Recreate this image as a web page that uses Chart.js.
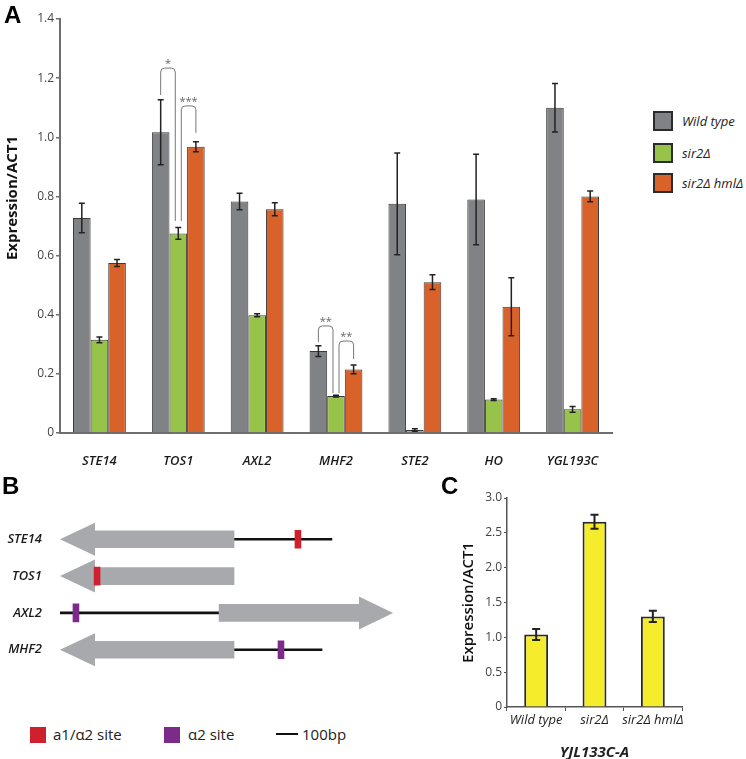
<!DOCTYPE html>
<html>
<head>
<meta charset="utf-8">
<script src="https://cdn.jsdelivr.net/npm/chart.js@4.4.1/dist/chart.umd.min.js"></script>
<style>
  body { margin: 0; background: #fff; font-family: 'Open Sans', sans-serif; }
  #page { position: relative; width: 746px; height: 759px; overflow: hidden; }
  canvas, .abs { position: absolute; white-space: nowrap; }
  .panel { font-family: Arial, 'Liberation Sans', sans-serif; font-weight: bold; font-size: 24px; color: #000; }
  .sw { width: 16px; height: 16px; border: 2px solid #2b2b2b; }
  .lg { font-style: italic; font-size: 13px; color: #222; line-height: 20px; }
  .lgb { font-size: 15px; color: #222; line-height: 16px; }
</style>
</head>
<body>
<div id="page">
  <canvas id="chartA" width="640" height="470" style="left:0;top:0"></canvas>
  <canvas id="chartB" width="412" height="183" style="left:0;top:503px"></canvas>
  <canvas id="chartC" width="316" height="289" style="left:430px;top:470px"></canvas>

  <div class="abs panel" style="left:4px;top:1px">A</div>
  <div class="abs panel" style="left:2px;top:472px">B</div>
  <div class="abs panel" style="left:441px;top:472px">C</div>

  <div class="abs sw" style="left:653px;top:111px;background:#808285"></div>
  <div class="abs lg" style="left:682px;top:111px">Wild type</div>
  <div class="abs sw" style="left:653px;top:143px;background:#98c34a"></div>
  <div class="abs lg" style="left:682px;top:143px">sir2Δ</div>
  <div class="abs sw" style="left:653px;top:173px;background:#d9622b"></div>
  <div class="abs lg" style="left:682px;top:173px">sir2Δ hmlΔ</div>

  <div class="abs" style="left:30px;top:727px;width:16px;height:16px;background:#d0202e"></div>
  <div class="abs lgb" style="left:53px;top:726px">a1/α2 site</div>
  <div class="abs" style="left:164px;top:727px;width:16px;height:16px;background:#7d2b8b"></div>
  <div class="abs lgb" style="left:188px;top:726px">α2 site</div>
  <div class="abs" id="bpBar" style="left:276px;top:733px;width:22px;height:2px;background:#111"></div>
  <div class="abs lgb" style="left:302px;top:726px">100bp</div>
</div>
<script>
// ---- panel A data
const genes = ['STE14', 'TOS1', 'AXL2', 'MHF2', 'STE2', 'HO', 'YGL193C'];
const wildType    = [0.727, 1.017, 0.783, 0.277, 0.775, 0.790, 1.100];
const wildTypeErr = [0.050, 0.110, 0.028, 0.018, 0.172, 0.153, 0.082];
const sir2        = [0.315, 0.675, 0.398, 0.125, 0.010, 0.113, 0.080];
const sir2Err     = [0.010, 0.020, 0.005, 0.003, 0.004, 0.003, 0.010];
const sir2hml     = [0.575, 0.968, 0.757, 0.215, 0.510, 0.427, 0.800];
const sir2hmlErr  = [0.012, 0.017, 0.022, 0.015, 0.025, 0.098, 0.018];
// [gene index, series from, series to, bracket top, from end, to end, label]
const brackets = [
  [1, 0, 1, 1.234, 1.143, 0.717, '*'],
  [1, 1, 2, 1.106, 0.717, 1.015, '***'],
  [3, 0, 1, 0.362, 0.308, 0.135, '**'],
  [3, 1, 2, 0.311, 0.135, 0.250, '**']
];

// ---- panel B data (bp, 0 = left end of the drawing)
const loci = ['STE14', 'TOS1', 'AXL2', 'MHF2'];
const intergenic = [[791, 1236], null, [0, 723], [791, 1191]];
const orfBody    = [[159, 791], [159, 791], [723, 1359], [159, 791]];
const orfTip     = [0, 0, 1514, 0];
const a1a2Site   = [[1068, 1095], [155, 182], null, null];
const alpha2Site = [null, null, [59, 86], [991, 1018]];

// ---- panel C data
const strains = ['Wild type', 'sir2Δ', 'sir2Δ hmlΔ'];
const yjl133 = [1.04, 2.66, 1.30];
const yjl133Err = [0.08, 0.10, 0.08];

const FONT = "'Open Sans', sans-serif";

const errorBars = {
  id: 'errorBars',
  afterDatasetsDraw(chart, args, opts) {
    const ctx = chart.ctx;
    const y = chart.scales.y;
    chart.data.datasets.forEach((ds, i) => {
      if (!ds.errors) return;
      chart.getDatasetMeta(i).data.forEach((bar, j) => {
        const v = ds.data[j], e = ds.errors[j];
        const top = y.getPixelForValue(v + e);
        const bot = y.getPixelForValue(v - e);
        const cap = opts.cap || 3;
        ctx.save();
        ctx.strokeStyle = '#222';
        ctx.lineWidth = opts.width || 1.5;
        ctx.beginPath();
        ctx.moveTo(bar.x, top); ctx.lineTo(bar.x, bot);
        ctx.moveTo(bar.x - cap, top); ctx.lineTo(bar.x + cap, top);
        ctx.moveTo(bar.x - cap, bot); ctx.lineTo(bar.x + cap, bot);
        ctx.stroke();
        ctx.restore();
      });
    });
  }
};

const sigBrackets = {
  id: 'sigBrackets',
  afterDatasetsDraw(chart) {
    const ctx = chart.ctx, y = chart.scales.y;
    const r = 4;
    brackets.forEach(([g, s1, s2, top, e1, e2, label]) => {
      const x1 = chart.getDatasetMeta(s1).data[g].x + (s1 === 1 ? 3 : 0);
      const x2 = chart.getDatasetMeta(s2).data[g].x - (s2 === 1 ? 3 : 0);
      const yt = y.getPixelForValue(top);
      ctx.save();
      ctx.strokeStyle = '#777';
      ctx.lineWidth = 1;
      ctx.beginPath();
      ctx.moveTo(x1, y.getPixelForValue(e1));
      ctx.lineTo(x1, yt + r);
      ctx.arcTo(x1, yt, x1 + r, yt, r);
      ctx.lineTo(x2 - r, yt);
      ctx.arcTo(x2, yt, x2, yt + r, r);
      ctx.lineTo(x2, y.getPixelForValue(e2));
      ctx.stroke();
      ctx.fillStyle = '#666';
      ctx.font = '11px ' + FONT;
      ctx.textAlign = 'center';
      ctx.textBaseline = 'middle';
      ctx.fillText(label, (x1 + x2) / 2, yt - 4);
      ctx.restore();
    });
  }
};

const yTitleA = {
  id: 'yTitleA',
  afterDraw(chart) {
    const ctx = chart.ctx;
    ctx.save();
    ctx.translate(13, 198);
    ctx.rotate(-Math.PI / 2);
    ctx.font = 'bold 15px ' + FONT;
    ctx.fillStyle = '#111';
    ctx.textAlign = 'center';
    ctx.textBaseline = 'middle';
    ctx.fillText('Expression/ACT1', 0, 0);
    ctx.restore();
  }
};

const barStyle = { borderWidth: 1, borderColor: '#3a3a3a', barPercentage: 1, categoryPercentage: 0.67 };

new Chart(document.getElementById('chartA'), {
  type: 'bar',
  data: {
    labels: genes,
    datasets: [
      Object.assign({ label: 'Wild type', data: wildType, errors: wildTypeErr, backgroundColor: '#808285' }, barStyle),
      Object.assign({ label: 'sir2Δ', data: sir2, errors: sir2Err, backgroundColor: '#98c34a' }, barStyle),
      Object.assign({ label: 'sir2Δ hmlΔ', data: sir2hml, errors: sir2hmlErr, backgroundColor: '#d9622b' }, barStyle)
    ]
  },
  options: {
    responsive: false,
    animation: false,
    devicePixelRatio: 1,
    layout: { padding: { top: 19, right: 28, bottom: 0, left: 0 } },
    plugins: { legend: { display: false }, tooltip: { enabled: false }, errorBars: { cap: 3, width: 1.5 } },
    scales: {
      x: {
        grid: { display: false },
        border: { color: '#6d6e70', width: 2 },
        ticks: { color: '#1a1a1a', padding: 12, maxRotation: 0, font: { family: FONT, size: 13, style: 'italic', weight: '600' } },
        afterFit(s) { s.height = 37; }
      },
      y: {
        min: 0, max: 1.4,
        ticks: {
          stepSize: 0.2, padding: 2, color: '#444',
          font: { family: FONT, size: 12 },
          callback: v => v === 0 ? '0' : v.toFixed(1)
        },
        grid: { drawOnChartArea: false, tickLength: 4, color: '#6d6e70', lineWidth: 1.5 },
        border: { color: '#6d6e70', width: 2 },
        afterFit(s) { s.width = 60; }
      }
    }
  },
  plugins: [errorBars, sigBrackets, yTitleA]
});

// ---- panel B
const arrowHeads = {
  id: 'arrowHeads',
  beforeDatasetsDraw(chart) {
    const ctx = chart.ctx, x = chart.scales.x, y = chart.scales.y;
    ctx.save();
    ctx.fillStyle = '#a7a9ac';
    loci.forEach((name, i) => {
      const body = orfBody[i];
      const tip = orfTip[i];
      const base = tip < body[0] ? body[0] : body[1];
      const yc = y.getPixelForValue(i);
      ctx.beginPath();
      ctx.moveTo(x.getPixelForValue(tip), yc);
      ctx.lineTo(x.getPixelForValue(base), yc - 16.5);
      ctx.lineTo(x.getPixelForValue(base), yc + 16.5);
      ctx.closePath();
      ctx.fill();
    });
    ctx.restore();
  }
};

const chartB = new Chart(document.getElementById('chartB'), {
  type: 'bar',
  data: {
    labels: loci,
    datasets: [
      { label: 'a1/α2 site', data: a1a2Site, backgroundColor: '#d0202e', barThickness: 18, grouped: false },
      { label: 'α2 site', data: alpha2Site, backgroundColor: '#7d2b8b', barThickness: 18, grouped: false },
      { label: 'ORF', data: orfBody, backgroundColor: '#a7a9ac', barThickness: 17, grouped: false },
      { label: 'intergenic', data: intergenic, backgroundColor: '#111', barThickness: 2, grouped: false }
    ]
  },
  options: {
    indexAxis: 'y',
    responsive: false,
    animation: false,
    devicePixelRatio: 1,
    layout: { padding: 0 },
    plugins: { legend: { display: false }, tooltip: { enabled: false } },
    scales: {
      x: { type: 'linear', min: 0, max: 1600, display: false },
      y: {
        grid: { display: false },
        border: { display: false },
        ticks: { color: '#1a1a1a', padding: 10, font: { family: FONT, size: 13, style: 'italic', weight: '600' } },
        afterFit(s) { s.width = 60; }
      }
    }
  },
  plugins: [arrowHeads]
});
const xb = chartB.scales.x;
document.getElementById('bpBar').style.width = (xb.getPixelForValue(100) - xb.getPixelForValue(0)) + 'px';

// ---- panel C
new Chart(document.getElementById('chartC'), {
  type: 'bar',
  data: {
    labels: strains,
    datasets: [{
      label: 'YJL133C-A', data: yjl133, errors: yjl133Err,
      backgroundColor: '#f5ec2b', borderColor: '#2a2a2a', borderWidth: 2,
      barPercentage: 0.41, categoryPercentage: 1
    }]
  },
  options: {
    responsive: false,
    animation: false,
    devicePixelRatio: 1,
    layout: { padding: { top: 28, right: 64, bottom: 0, left: 0 } },
    plugins: { legend: { display: false }, tooltip: { enabled: false }, errorBars: { cap: 4, width: 2 } },
    scales: {
      x: {
        grid: { offset: true, drawOnChartArea: false, tickLength: 4, color: '#555' },
        border: { color: '#555', width: 1.5 },
        ticks: { color: '#222', padding: 1, maxRotation: 0, minRotation: 0, autoSkip: false, font: { family: FONT, size: 13, style: 'italic' } },
        title: { display: true, text: 'YJL133C-A', color: '#222', padding: 0, font: { family: FONT, size: 15, style: 'italic', weight: 'bold', lineHeight: 0.9 } },
        afterFit(s) { s.height = 52; }
      },
      y: {
        min: 0, max: 3,
        ticks: {
          stepSize: 0.5, padding: 2, color: '#444',
          font: { family: FONT, size: 12 },
          callback: v => v === 0 ? '0' : v.toFixed(1)
        },
        grid: { drawOnChartArea: false, tickLength: 3, color: '#555' },
        border: { color: '#555', width: 1.5 },
        title: { display: true, text: 'Expression/ACT1', color: '#111', padding: { top: 30, bottom: 0 }, font: { family: FONT, size: 15, weight: '600' } },
        afterFit(s) { s.width = 77; }
      }
    }
  },
  plugins: [errorBars]
});
</script>
</body>
</html>
